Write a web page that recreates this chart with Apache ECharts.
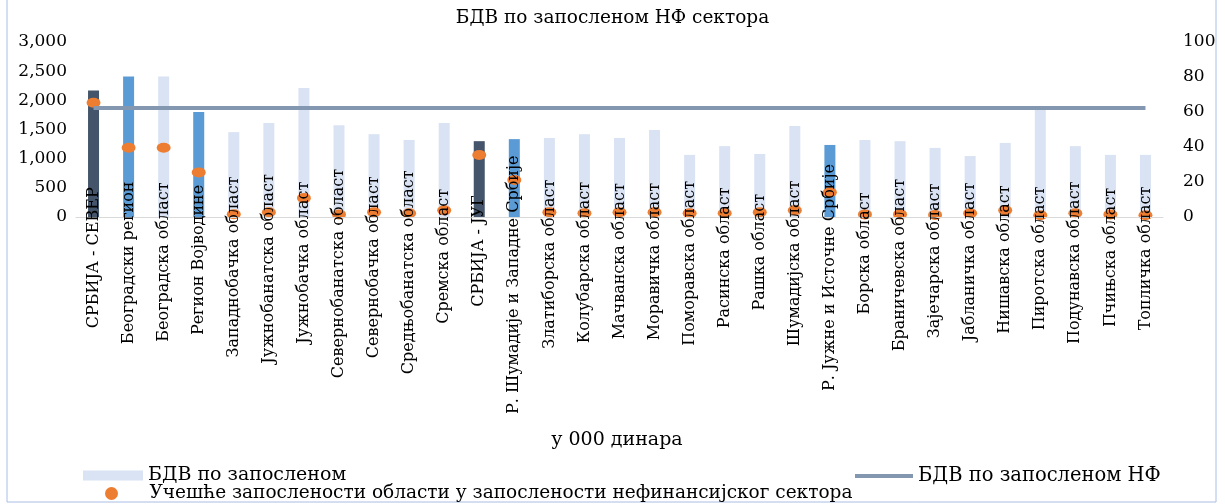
<!DOCTYPE html>
<html><head><meta charset="utf-8">
<script src="https://cdn.jsdelivr.net/npm/echarts@6/dist/echarts.min.js"></script>
<style>html,body{margin:0;padding:0;background:#fff}#c{width:1225px;height:504px}</style>
</head><body><div id="c"></div>
<script>
var categories = [
 'СРБИЈА - СЕВЕР','Београдски регион','Београдска област','Регион Војводине','Западнобачка област',
 'Јужнобанатска област','Јужнобачка област','Севернобанатска област','Севернобачка област','Средњобанатска област',
 'Сремска област','СРБИЈА - ЈУГ','Р. Шумадије и Западне Србије','Златиборска област','Колубарска област',
 'Мачванска област','Моравичка област','Поморавска област','Расинска област','Рашка област',
 'Шумадијска област','Р. Јужне и Источне Србије','Борска област','Браничевска област','Зајечарска област',
 'Јабланичка област','Нишавска област','Пиротска област','Подунавска област','Пчињска област','Топличка област'];
// kind: 0 = macro region (dark), 1 = region (medium), 2 = area (light)
var levels = [0,1,2,1,2, 2,2,2,2,2, 2,0,1,2,2, 2,2,2,2,2, 2,1,2,2,2, 2,2,2,2,2,2];
var gvaPerEmployee = [2170,2410,2410,1800,1455, 1610,2210,1575,1420,1320, 1610,1300,1335,1355,1420,
 1355,1490,1065,1215,1080, 1560,1235,1320,1300,1185, 1045,1270,1880,1215,1065,1065];
var gvaNF = [1870,1870,1870,1870,1870,1870,1870,1870,1870,1870,1870,1870,1870,1870,1870,1870,
 1870,1870,1870,1870,1870,1870,1870,1870,1870,1870,1870,1870,1870,1870,1870];
var employmentShare = [65.3,39.6,39.6,25.5,1.6, 2.7,10.8,1.5,2.7,2.1, 3.8,35.4,21.1,2.7,2.1,
 2.7,2.7,2.1,2.1,2.7, 3.8,14.1,1.5,1.5,1.2, 2.1,3.8,1.0,2.1,1.5,1.0];
var leftTicks = [0,500,1000,1500,2000,2500,3000];
var rightTicks = [0,20,40,60,80,100];

var levelColors = ['#44546A','#5B9BD5','#DAE3F3'];
var F = '"DejaVu Serif", serif';
var labelFont = '16px "DejaVu Serif"';
var ctx = document.createElement('canvas').getContext('2d');
ctx.font = labelFont;
var tops = categories.map(function(c){ return 225.4 - 0.27*ctx.measureText(c).width; });
var minTop = Math.min.apply(null, tops);
var axisY = 217;
var catData = categories.map(function(c,i){
  return {value:c, textStyle:{padding:[0, tops[i]-minTop, 0, 0]}};
});

var chart = echarts.init(document.getElementById('c'));
chart.setOption({
  animation:false,
  title:{text:'БДВ по запосленом НФ сектора', left:'center', top:4,
    textStyle:{fontFamily:F, fontSize:18.5, fontWeight:'normal', color:'#000'}},
  grid:{left:76, right:62, top:42, bottom:504-axisY},
  legend:[
    {data:['БДВ по запосленом'], left:83, top:466, padding:0, icon:'rect', itemWidth:60, itemHeight:10,
     textStyle:{fontFamily:F, fontSize:19, color:'#000'}},
    {data:['БДВ по запосленом НФ'], left:855, top:466, padding:0, icon:'rect', itemWidth:58, itemHeight:4,
     textStyle:{fontFamily:F, fontSize:19.5, color:'#000'}},
    {data:['Учешће запослености области у запослености нефинансијског сектора'], left:105, top:484, padding:0,
     icon:'circle', itemWidth:14, itemHeight:13,
     textStyle:{fontFamily:F, fontSize:18.5, color:'#000', padding:[0,0,0,26]}}
  ],
  xAxis:{type:'category', data:catData, z:10,
    axisLine:{lineStyle:{color:'#D9D9D9', width:1}}, axisTick:{show:false},
    axisLabel:{interval:0, rotate:90, margin:minTop-axisY, fontFamily:F, fontSize:16, color:'#000'}},
  yAxis:[
    {type:'value', min:leftTicks[0], max:leftTicks[leftTicks.length-1], interval:500,
     splitLine:{show:false}, axisLine:{show:false}, axisTick:{show:false},
     axisLabel:{margin:9, fontFamily:F, fontSize:17, color:'#000',
       formatter:function(v){ return echarts.format.addCommas(v); }}},
    {type:'value', min:rightTicks[0], max:rightTicks[rightTicks.length-1], interval:20,
     splitLine:{show:false}, axisLine:{show:false}, axisTick:{show:false},
     axisLabel:{margin:20, fontFamily:F, fontSize:17, color:'#000'}}
  ],
  graphic:[
    {type:'text', x:617, y:440, style:{text:'у 000 динара', font:'19px "DejaVu Serif"', fill:'#000',
      align:'center', verticalAlign:'middle'}},
    {type:'rect', shape:{x:7, y:-5, width:1209, height:507}, style:{fill:'none', stroke:'#A9BEE6', lineWidth:1}, silent:true}
  ],
  series:[
    {name:'БДВ по запосленом', type:'bar', barWidth:11, itemStyle:{color:levelColors[2]},
     data:gvaPerEmployee.map(function(v,i){ return {value:v, itemStyle:{color:levelColors[levels[i]]}}; })},
    {name:'БДВ по запосленом НФ', type:'line', data:gvaNF, symbol:'none', color:'#8497B0',
     lineStyle:{color:'#8497B0', width:4}, itemStyle:{color:'#8497B0'}},
    {name:'Учешће запослености области у запослености нефинансијског сектора', type:'scatter', yAxisIndex:1,
     data:employmentShare, symbol:'circle', symbolSize:[14,10], itemStyle:{color:'#ED7D31', opacity:1}}
  ]
});
</script></body></html>
